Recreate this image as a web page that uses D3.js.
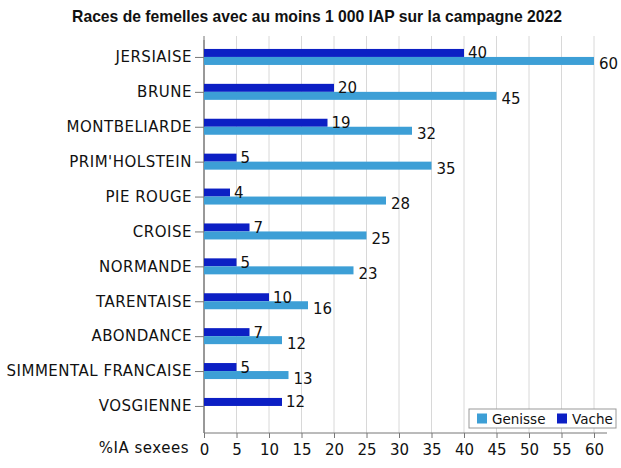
<!DOCTYPE html>
<html>
<head>
<meta charset="utf-8">
<script src="https://cdn.jsdelivr.net/npm/d3@7"></script>
<style>
  body { margin: 0; background: #fff; }
  svg { font-family: "DejaVu Sans", sans-serif; }
</style>
</head>
<body>
<svg id="chart" width="621" height="468"></svg>
<script>
// data
const races = ["JERSIAISE", "BRUNE", "MONTBELIARDE", "PRIM'HOLSTEIN", "PIE ROUGE", "CROISE",
  "NORMANDE", "TARENTAISE", "ABONDANCE", "SIMMENTAL FRANCAISE", "VOSGIENNE"];
const vache = [40, 20, 19, 5, 4, 7, 5, 10, 7, 5, 12];
const genisse = [60, 45, 32, 35, 28, 25, 23, 16, 12, 13, null];
const xTicks = [0, 5, 10, 15, 20, 25, 30, 35, 40, 45, 50, 55, 60];

const colVache = "#0c1fc4";
const colGenisse = "#3d9fd6";

let svg = d3.select("#chart");

let plotLeft = 204, plotTop = 40, plotBottom = 433;

let x = d3.scaleLinear().domain([0, 60]).range([plotLeft, 594]);
let y = d3.scaleBand().domain(races).range([plotTop, plotTop + 11 * 34.9]);

// title
svg.append("text")
  .attr("x", 317).attr("y", 22)
  .attr("text-anchor", "middle")
  .style("font-family", "Liberation Sans, Arial, sans-serif")
  .style("font-weight", "bold")
  .style("font-size", "15.7px")
  .attr("fill", "#111")
  .text("Races de femelles avec au moins 1 000 IAP sur la campagne 2022");

// grid
svg.append("g").selectAll("line")
  .data(xTicks)
  .join("line")
  .attr("x1", d => x(d)).attr("x2", d => x(d))
  .attr("y1", 36).attr("y2", plotBottom)
  .attr("stroke", d => d == 0 ? "#777" : "#d8d8d8")
  .attr("stroke-width", 1);

// x axis
let xAxis = svg.append("g")
  .attr("transform", "translate(0," + plotBottom + ")")
  .call(d3.axisBottom(x).tickValues(xTicks).tickSize(5).tickPadding(6).tickSizeOuter(0))
  .attr("font-family", null);
xAxis.select(".domain").attr("stroke", "#777").attr("d", "M" + plotLeft + ",0H607");
xAxis.selectAll(".tick line").attr("stroke", "#777");
xAxis.selectAll("text").style("font-size", "15px").attr("fill", "#111");

svg.append("text")
  .attr("x", 189).attr("y", 453)
  .attr("text-anchor", "end")
  .style("font-size", "15px")
  .style("letter-spacing", "0.5px")
  .attr("fill", "#111")
  .text("%IA sexees");

// y axis
let yAxis = svg.append("g")
  .attr("transform", "translate(" + plotLeft + ",0)")
  .call(d3.axisLeft(y).tickSize(9).tickPadding(3).tickSizeOuter(0))
  .attr("font-family", null);
yAxis.select(".domain").attr("stroke", "#777").attr("d", "M0," + plotTop + "V" + plotBottom);
yAxis.selectAll(".tick line").attr("stroke", "#777");
yAxis.selectAll("text").style("font-size", "15px").style("letter-spacing", "0.5px").attr("fill", "#111");

let bh = 8;

// vache bars (top)
svg.append("g").selectAll("rect")
  .data(races)
  .join("rect")
  .attr("x", x(0))
  .attr("y", d => y(d) + y.bandwidth() / 2 - bh - 0.5)
  .attr("width", (d, i) => x(vache[i]) - x(0))
  .attr("height", bh)
  .attr("fill", colVache);

// genisse bars (bottom)
let gData = races.map((r, i) => ({ r: r, v: genisse[i] })).filter(d => d.v != null);
svg.append("g").selectAll("rect")
  .data(gData)
  .join("rect")
  .attr("x", x(0))
  .attr("y", d => y(d.r) + y.bandwidth() / 2 - 0.5)
  .attr("width", d => x(d.v) - x(0))
  .attr("height", bh)
  .attr("fill", colGenisse);

// value labels
svg.append("g").selectAll("text")
  .data(races)
  .join("text")
  .attr("x", (d, i) => x(vache[i]) + 4)
  .attr("y", d => y(d) + y.bandwidth() / 2 + 1)
  .style("font-size", "15px")
  .attr("fill", "#111")
  .text((d, i) => vache[i]);

svg.append("g").selectAll("text")
  .data(gData)
  .join("text")
  .attr("x", d => x(d.v) + 5)
  .attr("y", d => y(d.r) + y.bandwidth() / 2 + 12)
  .style("font-size", "15px")
  .attr("fill", "#111")
  .text(d => d.v);

// legend
let lg = svg.append("g").attr("transform", "translate(469,409)");
lg.append("rect").attr("width", 147).attr("height", 19)
  .attr("fill", "#fff").attr("stroke", "#999");
let items = [["Genisse", colGenisse, 8], ["Vache", colVache, 88]];
items.forEach(it => {
  lg.append("rect").attr("x", it[2]).attr("y", 4.5).attr("width", 10).attr("height", 10).attr("fill", it[1]);
  lg.append("text").attr("x", it[2] + 15).attr("y", 15)
    .style("font-size", "13.5px").attr("fill", "#111").text(it[0]);
});
</script>
</body>
</html>
